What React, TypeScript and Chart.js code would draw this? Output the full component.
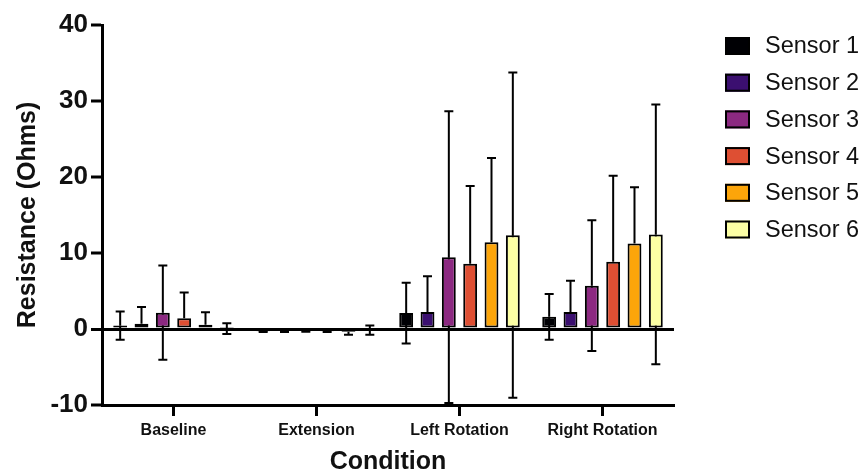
import React, { useEffect, useRef } from "react";
import { Chart, registerables } from "chart.js";

Chart.register(...registerables);

const categories = ["Baseline", "Extension", "Left Rotation", "Right Rotation"];
const sensorNames = ["Sensor 1", "Sensor 2", "Sensor 3", "Sensor 4", "Sensor 5", "Sensor 6"];
const sensorColors = ["#000004", "#3b0f70", "#8c2981", "#de4f33", "#fca50a", "#fcffa4"];

// means per sensor across categories
const sensor1 = [0.45, -0.3, 2.1, 1.6];
const sensor2 = [0.7, -0.1, 2.25, 2.25];
const sensor3 = [2.15, -0.25, 9.45, 5.7];
const sensor4 = [1.4, -0.3, 8.6, 8.85];
const sensor5 = [0.55, -0.35, 11.4, 11.25];
const sensor6 = [0.05, -0.15, 12.35, 12.45];

// error (SD) per sensor across categories
const err1 = [1.85, 0.1, 4.0, 3.0];
const err2 = [2.2, 0.3, 4.7, 4.1];
const err3 = [6.2, 0.1, 19.2, 8.6];
const err4 = [3.4, 0.1, 10.2, 11.3];
const err5 = [1.65, 0.4, 11.1, 7.4];
const err6 = [0.7, 0.6, 21.4, 17.1];

// whether only the direction away from zero is drawn
const oneSided = [false, true, false, true, true, false];

const yTicks = [-10, 0, 10, 20, 30, 40];

const means = [sensor1, sensor2, sensor3, sensor4, sensor5, sensor6];
const errs = [err1, err2, err3, err4, err5, err6];

const FONT = "'Liberation Sans', Arial, sans-serif";
const TEXT = "#111";

const errorBarPlugin = {
  id: "errorBars",
  beforeDatasetsDraw(chart: any) {
    const ctx = chart.ctx;
    const y = chart.scales.y;
    ctx.save();
    ctx.strokeStyle = "#000";
    ctx.lineWidth = 2;
    chart.data.datasets.forEach((ds: any, di: number) => {
      const meta = chart.getDatasetMeta(di);
      meta.data.forEach((bar: any, i: number) => {
        const m = ds.data[i];
        const e = ds.errors[i];
        const x = bar.x;
        const cap = 4.5;
        const dirs = ds.oneSided ? [m >= 0 ? 1 : -1] : [1, -1];
        dirs.forEach((d) => {
          const y0 = y.getPixelForValue(m);
          const y1 = y.getPixelForValue(m + d * e);
          ctx.beginPath();
          ctx.moveTo(x, y0);
          ctx.lineTo(x, y1);
          ctx.moveTo(x - cap, y1);
          ctx.lineTo(x + cap, y1);
          ctx.stroke();
        });
      });
    });
    ctx.restore();
  },
};

const legendPlugin = {
  id: "customLegend",
  afterDraw(chart: any) {
    const ctx = chart.ctx;
    ctx.save();
    chart.data.datasets.forEach((ds: any, i: number) => {
      const cy = 46 + i * 36.7;
      ctx.fillStyle = ds.backgroundColor;
      ctx.fillRect(725, cy - 9, 25, 18);
      ctx.strokeStyle = "#000";
      ctx.lineWidth = 2;
      ctx.strokeRect(726, cy - 8, 23, 16);
      ctx.fillStyle = TEXT;
      ctx.font = `23.5px ${FONT}`;
      ctx.textBaseline = "middle";
      ctx.textAlign = "left";
      ctx.fillText(ds.label, 765, cy + 1);
    });
    ctx.restore();
  },
};

export default function App() {
  const ref = useRef<HTMLCanvasElement | null>(null);
  useEffect(() => {
    document.body.style.margin = "0";
    const canvas = ref.current!;
    const chart = new Chart(canvas, {
      type: "bar",
      data: {
        labels: categories,
        datasets: sensorNames.map((name, i) => ({
          label: name,
          data: means[i],
          errors: errs[i],
          oneSided: oneSided[i],
          backgroundColor: sensorColors[i],
          borderColor: "#000",
          borderWidth: 2,
          borderSkipped: false,
          categoryPercentage: 0.895,
          barPercentage: 0.65,
        })) as any,
      },
      options: {
        animation: false,
        responsive: false,
        maintainAspectRatio: false,
        layout: { padding: { left: 0, top: 25, right: 191, bottom: 0 } },
        plugins: {
          legend: { display: false },
          tooltip: { enabled: false },
        },
        scales: {
          x: {
            type: "category",
            offset: true,
            afterFit(scale: any) {
              scale.height = 68;
            },
            grid: {
              display: true,
              offset: false,
              drawOnChartArea: false,
              drawTicks: true,
              tickLength: 11,
              tickWidth: 3,
              tickColor: "#000",
              color: "#000",
            },
            border: { display: true, color: "#000", width: 3 },
            ticks: {
              color: TEXT,
              font: { family: FONT, size: 16, weight: "bold" },
              padding: 5,
              maxRotation: 0,
            },
            title: {
              display: true,
              text: "Condition",
              color: TEXT,
              font: { family: FONT, size: 25, weight: "bold", lineHeight: 1 },
              padding: { top: 0, bottom: -2 },
            },
          },
          y: {
            min: -10,
            max: 40,
            afterFit(scale: any) {
              scale.width = 102;
            },
            afterBuildTicks(scale: any) {
              scale.ticks = yTicks.map((v) => ({ value: v }));
            },
            grid: {
              display: true,
              drawOnChartArea: true,
              drawTicks: true,
              tickLength: 11,
              tickWidth: 3,
              tickColor: "#000",
              color: (c: any) => (c.tick && c.tick.value === 0 ? "#000" : "rgba(0,0,0,0)"),
              lineWidth: (c: any) => (c.tick && c.tick.value === 0 ? 3 : 0),
            },
            border: { display: true, color: "#000", width: 3 },
            ticks: {
              color: TEXT,
              font: { family: FONT, size: 26, weight: "bold" },
              padding: 3,
            },
            title: {
              display: true,
              text: "Resistance (Ohms)",
              color: TEXT,
              font: { family: FONT, size: 25, weight: "bold", lineHeight: 1 },
              padding: { top: 16, bottom: 0 },
            },
          },
        },
      },
      plugins: [errorBarPlugin, legendPlugin],
    });
    return () => chart.destroy();
  }, []);
  return (
    <div style={{ position: "fixed", left: 0, top: 0, width: 865, height: 473, background: "#fff" }}>
      <canvas ref={ref} width={865} height={473} style={{ display: "block" }} />
    </div>
  );
}
